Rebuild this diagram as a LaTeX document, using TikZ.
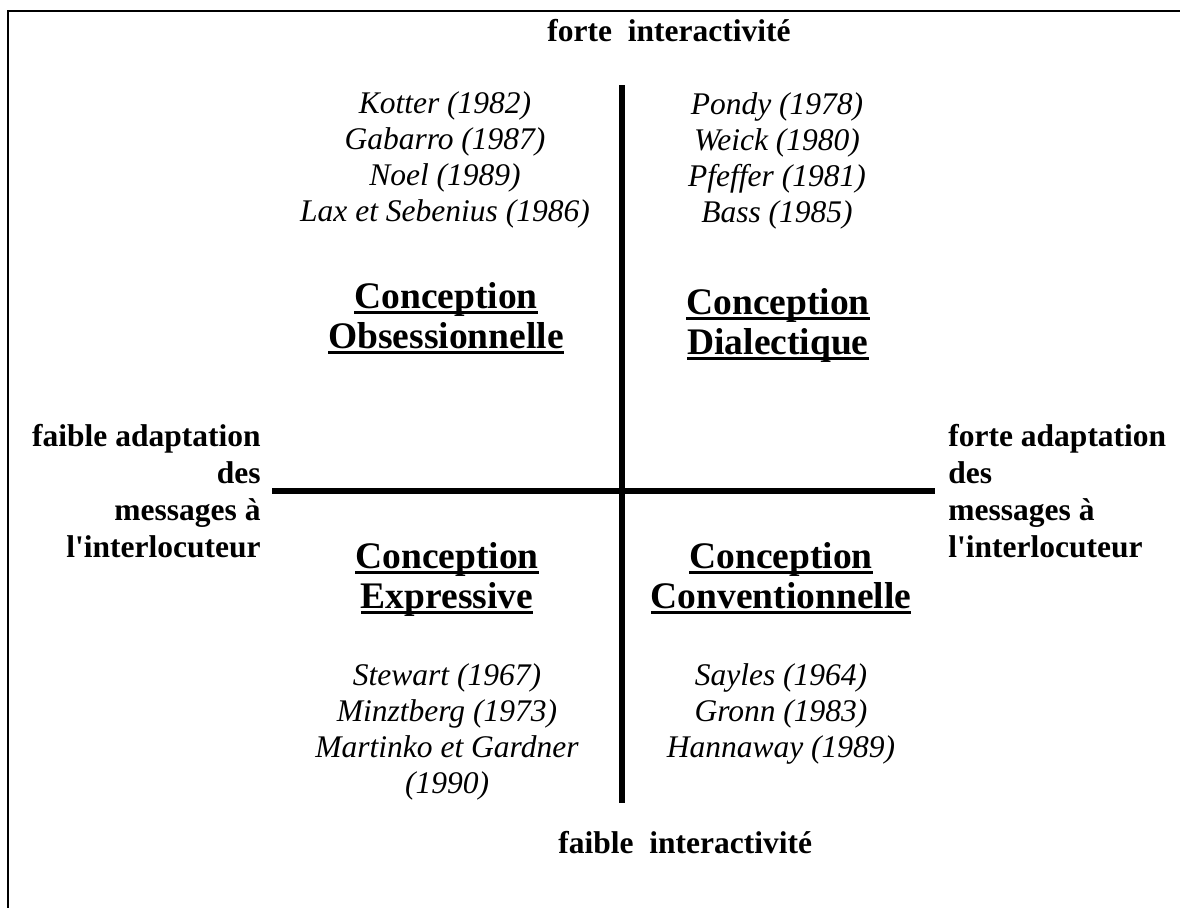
\documentclass[tikz,border=0pt]{standalone}
\usepackage{fontspec}
% plain family without TeX ligature mapping, so ' stays a straight quote
\newfontfamily\serifface{Liberation Serif}
\setmainfont{Liberation Serif}
% underline drawn as a rule just below the baseline
\newcommand\ulin[1]{\setbox0=\hbox{#1}\rlap{\vrule width \wd0 height -1.3pt depth 2.8pt}\box0}
\begin{document}
\begin{tikzpicture}[x=0.5pt,y=-0.5pt,
  names/.style={font=\serifface\fontsize{15.75}{18}\selectfont\itshape, align=center, anchor=base, inner sep=0pt},
  ctitle/.style={font=\serifface\fontsize{18.75}{20}\selectfont\bfseries, align=center, anchor=base, inner sep=0pt},
  axislabel/.style={font=\serifface\fontsize{15.75}{18.5}\selectfont\bfseries, inner sep=0pt},
  axisline/.style={line width=3pt},
  frameline/.style={line width=1pt}]
\useasboundingbox (0,0) rectangle (1180,907);

% frame: left and top edges
\coordinate (fbl) at (8,912);
\coordinate (ftl) at (8,11);
\coordinate (ftr) at (1185,11);
\draw[frameline] (fbl) -- (ftl) -- (ftr);

% axes
\coordinate (vtop) at (622,85);
\coordinate (vbot) at (622,803);
\coordinate (hleft) at (272,491);
\coordinate (hright) at (935,491);
\draw[axisline] (vtop) -- (vbot);
\draw[axisline] (hleft) -- (hright);

% axis labels (multi-line nodes are placed by the baseline of their last line)
\node[axislabel, anchor=base west] (forteint) at (547,41) {forte\ \ interactivité};
\node[axislabel, anchor=base west] (faibleint) at (558,853) {faible\ \ interactivité};
\node[axislabel, align=right, anchor=base east] (faibleadapt) at (261,557)
  {faible adaptation\\des\\messages à\\l'interlocuteur};
\node[axislabel, align=left, anchor=base west] (forteadapt) at (948,557)
  {forte adaptation\\des\\messages à\\l'interlocuteur};

% top-left quadrant
\node[names] (tlnames) at (445,221)
  {Kotter (1982)\\Gabarro (1987)\\Noel (1989)\\Lax et Sebenius (1986)};
\node[ctitle] (tltitle) at (446,348) {\ulin{Conception}\\\ulin{Obsessionnelle}};

% top-right quadrant
\node[names] (trnames) at (777,222)
  {Pondy (1978)\\Weick (1980)\\Pfeffer (1981)\\Bass (1985)};
\node[ctitle] (trtitle) at (778,354) {\ulin{Conception}\\\ulin{Dialectique}};

% bottom-left quadrant
\node[ctitle] (bltitle) at (447,608) {\ulin{Conception}\\\ulin{Expressive}};
\node[names] (blnames) at (447,793)
  {Stewart (1967)\\Minztberg (1973)\\Martinko et Gardner\\(1990)};

% bottom-right quadrant
\node[ctitle] (brtitle) at (781,608) {\ulin{Conception}\\\ulin{Conventionnelle}};
\node[names] (brnames) at (781,757)
  {Sayles (1964)\\Gronn (1983)\\Hannaway (1989)};
\end{tikzpicture}
\end{document}
